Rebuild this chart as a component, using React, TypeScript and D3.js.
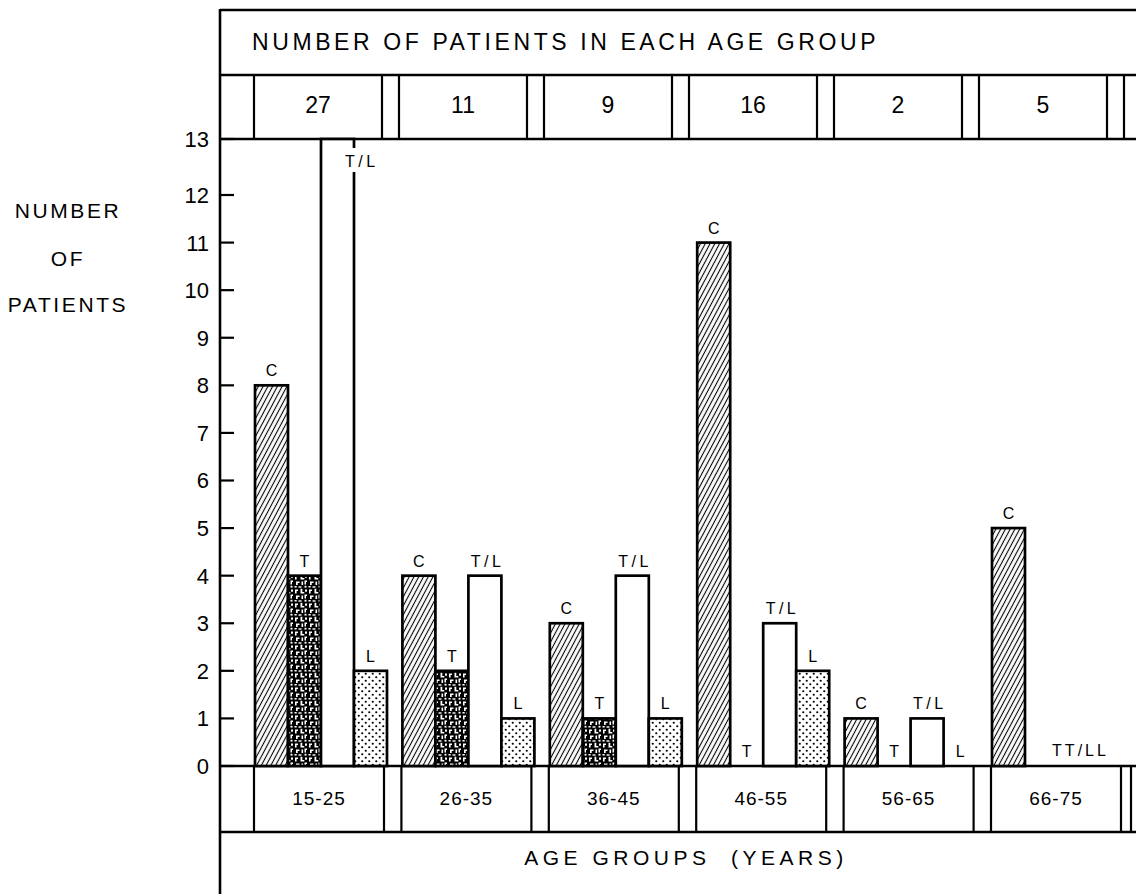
import React from "react";
import * as d3 from "d3";

const ageGroups = ["15-25", "26-35", "36-45", "46-55", "56-65", "66-75"];
const groupTotals = [27, 11, 9, 16, 2, 5];
const seriesKeys = ["C", "T", "T/L", "L"];
const valuesC = [8, 4, 3, 11, 1, 5];
const valuesT = [4, 2, 1, 0, 0, 0];
const valuesTL = [13, 4, 4, 3, 1, 0];
const valuesL = [2, 1, 1, 2, 0, 0];
const yTicks = [0, 1, 2, 3, 4, 5, 6, 7, 8, 9, 10, 11, 12, 13];
const yTitle = ["NUMBER", "OF", "PATIENTS"];
const headerTitle = "NUMBER OF PATIENTS IN EACH AGE GROUP";
const xTitle = "AGE GROUPS  (YEARS)";
const mergedZeroLabels = [{ group: "66-75", at: "T/L", text: "TT/LL" }];

const W = 1136;
const H = 894;
const FONT = "'Liberation Sans', Arial, Helvetica, sans-serif";

const seriesValues: Record<string, number[]> = {
  C: valuesC,
  T: valuesT,
  "T/L": valuesTL,
  L: valuesL,
};
const fills: Record<string, string> = {
  C: "url(#hatchC)",
  T: "url(#mottleT)",
  "T/L": "#ffffff",
  L: "url(#dotsL)",
};

export default function App() {
  const frameLeft = 220;
  const topY = 10;
  const headerBottom = 75;
  const plotTop = 139;
  const baseY = 766;
  const labelRowBottom = 832;

  const y = d3.scaleLinear().domain([0, 12, 13]).range([baseY, 195, plotTop]);
  const xGroup = d3.scaleLinear().domain([0, 6]).range([254, 254 + 6 * 147.4]);
  const xCount = d3.scaleLinear().domain([0, 7]).range([254, 254 + 7 * 145]);
  const inner = d3.scaleBand<string>().domain(seriesKeys).range([1, 133]);
  const yMax = y.domain()[y.domain().length - 1];

  const bars: any[] = [];
  const labels: any[] = [];
  ageGroups.forEach((g, gi) => {
    const gx = xGroup(gi);
    const merged = mergedZeroLabels.find((m) => m.group === g);
    seriesKeys.forEach((k) => {
      const v = seriesValues[k][gi];
      const x0 = gx + (inner(k) as number);
      const bw = inner.bandwidth();
      const ls = k.length > 1 ? 3.5 : 0;
      if (v > 0) {
        bars.push(
          <rect
            key={`b-${g}-${k}`}
            x={x0}
            y={y(v)}
            width={bw}
            height={baseY - y(v)}
            fill={fills[k]}
            stroke="#000"
            strokeWidth={2.7}
          />
        );
      }
      if (merged && v === 0) {
        if (k === merged.at) {
          labels.push(
            <text key={`l-${g}-${k}`} x={x0 + bw / 2 + 6} y={baseY - 10} textAnchor="middle" fontSize={16} letterSpacing={3}>
              {merged.text}
            </text>
          );
        }
        return;
      }
      if (v >= yMax) {
        const lx = x0 + bw + 6;
        const ly = y(v) + 28;
        labels.push(
          <g key={`l-${g}-${k}`}>
            <rect x={lx - 17} y={ly - 19} width={34} height={24} fill="#fff" />
            <text x={lx + ls / 2} y={ly} textAnchor="middle" fontSize={16} letterSpacing={ls}>
              {k}
            </text>
          </g>
        );
      } else {
        labels.push(
          <text key={`l-${g}-${k}`} x={x0 + bw / 2 + ls / 2 + (k === "T/L" ? 1 : 0)} y={y(v) - 9} textAnchor="middle" fontSize={16} letterSpacing={ls}>
            {k}
          </text>
        );
      }
    });
  });

  const countBoxW = 128;
  const labelBoxW = 130;

  return (
    <svg
      width={W}
      height={H}
      style={{ position: "absolute", left: 0, top: 0, background: "#fff" }}
      fontFamily={FONT}
    >
      <defs>
        <pattern id="hatchC" patternUnits="userSpaceOnUse" width={4.2} height={10} patternTransform="rotate(28)">
          <rect width={4.2} height={10} fill="#fff" />
          <line x1={2.1} y1={0} x2={2.1} y2={10} stroke="#000" strokeWidth={1.1} />
        </pattern>
        <pattern id="mottleT" patternUnits="userSpaceOnUse" width={14} height={14}>
          <rect width={14} height={14} fill="#000" />
          <path d="M1 1.5 h3 v1.6 h-1.4 v2.4 h-1.6 z" fill="#fff" />
          <path d="M6.5 0.8 h1.8 v3.2 h2 v1.5 h-3.8 z" fill="#fff" />
          <rect x={11} y={1.5} width={2} height={2.2} fill="#fff" />
          <path d="M2 7.5 h3.5 v1.5 h-1.8 v2 h-1.7 z" fill="#fff" />
          <rect x={7.5} y={7.5} width={1.6} height={3.5} fill="#fff" />
          <path d="M10.5 6.5 h2.5 v1.6 h-1 v2.4 h-1.5 z" fill="#fff" />
          <rect x={0.5} y={12} width={2.2} height={1.5} fill="#fff" />
          <rect x={4.5} y={12.3} width={3} height={1.4} fill="#fff" />
          <rect x={10.5} y={11.8} width={2} height={1.8} fill="#fff" />
        </pattern>
        <pattern id="dotsL" patternUnits="userSpaceOnUse" width={7} height={7}>
          <rect width={7} height={7} fill="#fff" />
          <circle cx={1.75} cy={1.75} r={1.1} fill="#000" />
          <circle cx={5.25} cy={5.25} r={1.1} fill="#000" />
        </pattern>
      </defs>

      {/* Frame horizontals */}
      {[topY, headerBottom, plotTop, baseY, labelRowBottom].map((yy) => (
        <line key={`h-${yy}`} x1={frameLeft} x2={W} y1={yy} y2={yy} stroke="#000" strokeWidth={2.5} />
      ))}
      <line x1={frameLeft} x2={frameLeft} y1={topY - 1} y2={H} stroke="#000" strokeWidth={2.6} />

      {/* Header */}
      <text x={252} y={50} fontSize={23} letterSpacing={3.6}>
        {headerTitle}
      </text>

      {/* Count row boxes */}
      {d3.range(7).map((i) => (
        <g key={`cb-${i}`}>
          <line x1={xCount(i)} x2={xCount(i)} y1={headerBottom} y2={plotTop} stroke="#000" strokeWidth={2.2} />
          <line x1={xCount(i) + countBoxW} x2={xCount(i) + countBoxW} y1={headerBottom} y2={plotTop} stroke="#000" strokeWidth={2.2} />
        </g>
      ))}
      {groupTotals.map((t, i) => (
        <text key={`ct-${i}`} x={xCount(i) + countBoxW / 2} y={113} textAnchor="middle" fontSize={23}>
          {t}
        </text>
      ))}

      {/* Label row boxes */}
      {ageGroups.map((g, i) => (
        <g key={`lb-${i}`}>
          <line x1={xGroup(i)} x2={xGroup(i)} y1={baseY} y2={labelRowBottom} stroke="#000" strokeWidth={2.2} />
          <line x1={xGroup(i) + labelBoxW} x2={xGroup(i) + labelBoxW} y1={baseY} y2={labelRowBottom} stroke="#000" strokeWidth={2.2} />
          <text x={xGroup(i) + labelBoxW / 2} y={805} textAnchor="middle" fontSize={19} letterSpacing={1}>
            {g}
          </text>
        </g>
      ))}
      <line x1={1131} x2={1131} y1={baseY} y2={labelRowBottom} stroke="#000" strokeWidth={2.2} />

      {/* Bars */}
      {bars}
      {labels}

      {/* Y ticks */}
      {yTicks.map((t) => (
        <g key={`t-${t}`}>
          <line x1={frameLeft} x2={frameLeft + 14} y1={y(t)} y2={y(t)} stroke="#000" strokeWidth={2.2} />
          <text x={209} y={y(t)} dy="0.36em" textAnchor="end" fontSize={22}>
            {t}
          </text>
        </g>
      ))}

      {/* Y title */}
      {yTitle.map((s, i) => (
        <text key={`yt-${i}`} x={68} y={[218, 266, 312][i]} textAnchor="middle" fontSize={21} letterSpacing={2.6}>
          {s}
        </text>
      ))}

      {/* X title */}
      <text x={686} y={865} textAnchor="middle" fontSize={21} letterSpacing={4.5} style={{ whiteSpace: "pre" }}>
        {xTitle}
      </text>
    </svg>
  );
}
